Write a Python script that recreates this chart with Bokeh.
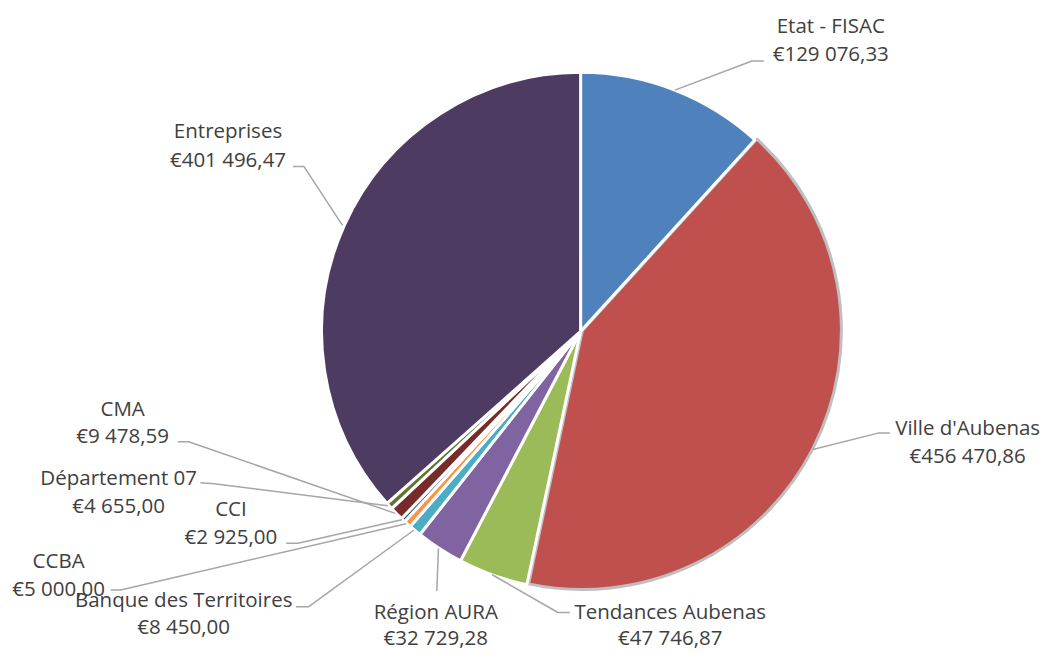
import numpy as np
from bokeh.plotting import figure
from bokeh.models import Range1d, ColumnDataSource
from bokeh.core.properties import value
from bokeh.embed import file_html
from bokeh.resources import INLINE

# ---------------- data ----------------
names = ["Etat - FISAC", "Ville d'Aubenas", "Tendances Aubenas", "Région AURA",
         "Banque des Territoires", "CCBA", "CCI", "CMA", "Département 07", "Entreprises"]
amounts = [129076.33, 456470.86, 47746.87, 32729.28, 8450.00, 5000.00,
           2925.00, 9478.59, 4655.00, 401496.47]
colors = ["#4F81BD", "#C0504D", "#9BBB59", "#8064A2", "#4BACC6", "#F79646",
          "#2C4D75", "#772C2A", "#5F7530", "#4D3B62"]

# ---------------- layout (reference-image px) ----------------
label_x = [843, 982, 680, 442, 186, 59, 234, 124, 120, 231]
label_name_y = [25, 437, 625, 625, 613, 573, 520, 417, 488, 133]
label_gap = [29, 28.5, 27, 27, 28, 28.5, 28.5, 28.5, 28.5, 29]
elbow_x = [763, 892, 566, 443, 313, 122, 302, 191, 217, 308]
elbow_y = [62, 443, 627, 605, 621, 604, 556, 452, 495, 170]
end_x = [775, 903, 578, 443, 300, 112, 290, 180, 203, 297]
end_y = [62, 443, 627, 605, 621, 604, 556, 452, 494, 170]

REF_W, REF_H = 1059, 668
W, H = 1043, 652
CX, CY = 589, 339
R = 263


def fy(y):
    return REF_H - y


def fmt(v):
    s = f"{v:,.2f}".replace(",", " ").replace(".", ",")
    return "€" + s


vals = np.array(amounts)
total = vals.sum()
cum = np.cumsum(vals)
t0 = (cum - vals) / total * 2 * np.pi   # clockwise from top
t1 = cum / total * 2 * np.pi
tm = (t0 + t1) / 2

start_angle = np.pi / 2 - t0
end_angle = np.pi / 2 - t1

p = figure(width=W, height=H, output_backend="svg", toolbar_location=None,
           x_range=Range1d(0, REF_W), y_range=Range1d(0, REF_H),
           x_axis_location=None, y_axis_location=None, min_border=0,
           background_fill_color="white", border_fill_color="white")
p.grid.visible = False
p.outline_line_color = None

# Red slice (highlighted with grey outline), drawn first
i_red = 1
off = 2.0
p.wedge(x=[CX + off * np.sin(tm[i_red])], y=[fy(CY) - off * np.cos(tm[i_red])],
        radius=R, start_angle=[start_angle[i_red]], end_angle=[end_angle[i_red]],
        direction="clock", fill_color=colors[i_red], line_color="#BFBFBF", line_width=3)

others = [i for i in range(len(names)) if i != i_red]
src = ColumnDataSource(dict(
    x=[CX] * len(others), y=[fy(CY)] * len(others),
    sa=[start_angle[i] for i in others], ea=[end_angle[i] for i in others],
    c=[colors[i] for i in others]))
p.wedge(x="x", y="y", radius=R, start_angle="sa", end_angle="ea", direction="clock",
        fill_color="c", line_color="white", line_width=3, source=src)

# Leader lines
xs, ys = [], []
for i in range(len(names)):
    rr = R + 2
    sx = CX + rr * np.sin(tm[i])
    sy = CY - rr * np.cos(tm[i])
    xs.append([sx, elbow_x[i], end_x[i]])
    ys.append([fy(sy), fy(elbow_y[i]), fy(end_y[i])])
p.multi_line(xs=xs, ys=ys, line_color="#A6A6A6", line_width=1.5)

# Labels
txt_src = ColumnDataSource(dict(
    x=label_x + label_x,
    y=[fy(y) for y in label_name_y] + [fy(y + g) for y, g in zip(label_name_y, label_gap)],
    t=names + [fmt(v) for v in amounts]))
p.text(x="x", y="y", text="t", source=txt_src, text_align="center",
       text_baseline="middle", text_font=value("Open Sans"),
       text_font_size="20.5px", text_color="#404040")

open("out.html", "w").write(file_html(p, INLINE))
